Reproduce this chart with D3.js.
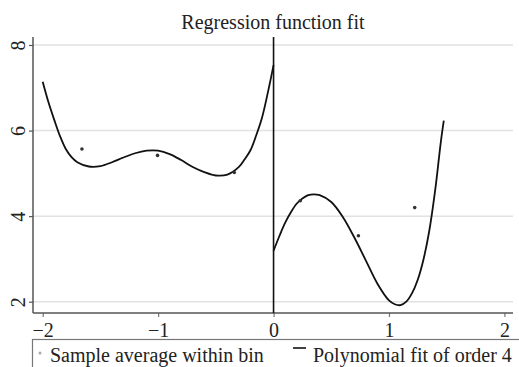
<!DOCTYPE html>
<html>
<head>
<meta charset="utf-8">
<script src="https://cdn.jsdelivr.net/npm/d3@7"></script>
<style>
  body { margin: 0; background: #fff; }
  svg { display: block; }
  svg text { font-family: "Liberation Serif", "Times New Roman", "DejaVu Serif", serif; }
</style>
</head>
<body>
<svg id="chart" width="519" height="367"></svg>
<script>
// Binned sample averages
const binX = [-1.66, -1.005, -0.34, 0.232, 0.735, 1.223];
const binY = [5.57, 5.42, 5.02, 4.36, 3.54, 4.20];

// Fitted curve, left of cutoff
const leftX = [-2.0, -1.95, -1.9, -1.85, -1.8, -1.75, -1.7, -1.6, -1.5, -1.4, -1.3, -1.2, -1.1, -1.0, -0.9, -0.8, -0.7, -0.6, -0.5, -0.4, -0.3, -0.25, -0.2, -0.15, -0.1, -0.05, 0.0];
const leftY = [7.14, 6.66, 6.25, 5.87, 5.57, 5.38, 5.26, 5.16, 5.17, 5.26, 5.37, 5.47, 5.53, 5.53, 5.45, 5.31, 5.15, 5.03, 4.95, 4.97, 5.15, 5.33, 5.54, 5.89, 6.30, 6.88, 7.53];

// Fitted curve, right of cutoff
const rightX = [0.0, 0.05, 0.1, 0.15, 0.2, 0.25, 0.3, 0.35, 0.4, 0.5, 0.6, 0.7, 0.8, 0.9, 1.0, 1.05, 1.1, 1.15, 1.2, 1.25, 1.3, 1.35, 1.4, 1.45, 1.475];
const rightY = [3.19, 3.53, 3.84, 4.09, 4.29, 4.41, 4.49, 4.51, 4.49, 4.33, 3.98, 3.50, 2.96, 2.42, 2.03, 1.94, 1.92, 2.00, 2.20, 2.52, 3.00, 3.67, 4.60, 5.75, 6.23];

const xTicks = [-2, -1, 0, 1, 2];
const yTicks = [2, 4, 6, 8];
const cutoff = 0;

const titleText = 'Regression function fit';
const legendLabels = ['Sample average within bin', 'Polynomial fit of order 4'];

const serif = '"Liberation Serif", "Times New Roman", "DejaVu Serif", serif';

const svg = d3.select('#chart');
const plot = { left: 33, right: 513, top: 37, bottom: 313 };

const x = d3.scaleLinear().domain([-2, 2]).range([42.7, 504.4]);
const y = d3.scaleLinear().domain([2, 8]).range([301.7, 45]);

// Gridlines
svg.append('g')
  .selectAll('line')
  .data(yTicks)
  .join('line')
    .attr('x1', plot.left).attr('x2', plot.right)
    .attr('y1', d => y(d)).attr('y2', d => y(d))
    .attr('stroke', '#e2e2e2')
    .attr('stroke-width', 1.5);

// Axes
const yAxis = svg.append('g')
  .attr('transform', `translate(${plot.left},0)`)
  .call(d3.axisLeft(y).tickValues(yTicks).tickSize(4).tickFormat(d3.format('d')))
  .attr('font-family', serif)
  .attr('font-size', 20);
yAxis.select('.domain').remove();
yAxis.selectAll('.tick line').attr('stroke', '#555').attr('stroke-width', 1.2);
yAxis.selectAll('.tick text')
  .attr('x', null).attr('dy', null)
  .attr('transform', 'translate(-8,0) rotate(-90)')
  .attr('text-anchor', 'middle')
  .attr('fill', '#222');

const xAxis = svg.append('g')
  .attr('transform', `translate(0,${plot.bottom})`)
  .call(d3.axisBottom(x).tickValues(xTicks).tickSize(4).tickFormat(d3.format('d')))
  .attr('font-family', serif)
  .attr('font-size', 20);
xAxis.select('.domain').remove();
xAxis.selectAll('.tick line').attr('stroke', '#777').attr('stroke-width', 1.2);
xAxis.selectAll('.tick text')
  .attr('y', 24).attr('dy', null)
  .attr('fill', '#222');

svg.append('line')
  .attr('x1', plot.left).attr('x2', plot.left)
  .attr('y1', plot.top).attr('y2', plot.bottom)
  .attr('stroke', '#555').attr('stroke-width', 1.5);
svg.append('line')
  .attr('x1', plot.left).attr('x2', plot.right)
  .attr('y1', plot.bottom).attr('y2', plot.bottom)
  .attr('stroke', '#555').attr('stroke-width', 1.5);

// Cutoff line
svg.append('line')
  .attr('x1', x(cutoff)).attr('x2', x(cutoff))
  .attr('y1', plot.top).attr('y2', plot.bottom)
  .attr('stroke', '#111').attr('stroke-width', 1.6);

// Fitted curves
const line = d3.line()
  .x(d => x(d[0]))
  .y(d => y(d[1]))
  .curve(d3.curveCatmullRom);

[[leftX, leftY], [rightX, rightY]].forEach(([xs, ys]) => {
  svg.append('path')
    .datum(d3.zip(xs, ys))
    .attr('d', line)
    .attr('fill', 'none')
    .attr('stroke', '#111')
    .attr('stroke-width', 1.8);
});

// Bin averages
svg.append('g')
  .selectAll('circle')
  .data(d3.zip(binX, binY))
  .join('circle')
    .attr('cx', d => x(d[0]))
    .attr('cy', d => y(d[1]))
    .attr('r', 1.8)
    .attr('fill', '#333');

// Title
svg.append('text')
  .attr('x', (plot.left + plot.right) / 2)
  .attr('y', 29)
  .attr('text-anchor', 'middle')
  .attr('font-family', serif)
  .attr('font-size', 20)
  .attr('fill', '#222')
  .text(titleText);

// Legend
const legend = svg.append('g').attr('font-family', serif).attr('font-size', 20);
legend.append('rect')
  .attr('x', 32.5).attr('y', 339.5)
  .attr('width', 500).attr('height', 60)
  .attr('fill', '#fff')
  .attr('stroke', '#777').attr('stroke-width', 1.2);
legend.append('circle')
  .attr('cx', 40).attr('cy', 353).attr('r', 1.5)
  .attr('fill', '#aaa');
legend.append('text')
  .attr('x', 50).attr('y', 361.5)
  .attr('fill', '#222')
  .text(legendLabels[0]);
legend.append('line')
  .attr('x1', 293).attr('x2', 306)
  .attr('y1', 348).attr('y2', 348)
  .attr('stroke', '#111').attr('stroke-width', 1.6);
legend.append('text')
  .attr('x', 313).attr('y', 361.5)
  .attr('fill', '#222')
  .text(legendLabels[1]);
</script>
</body>
</html>
